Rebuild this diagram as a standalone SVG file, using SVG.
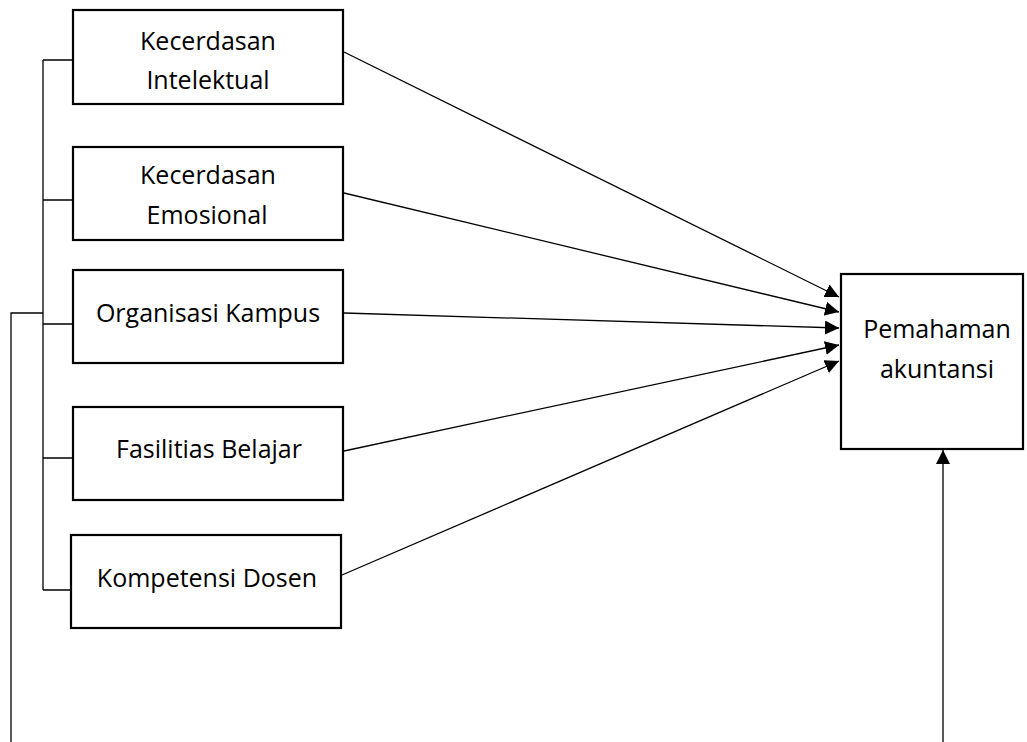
<svg xmlns="http://www.w3.org/2000/svg" width="1027" height="742" viewBox="0 0 1027 742">
<defs>
<style>
.box{fill:#fff;stroke:#000;stroke-width:2.2}
.ln{fill:none;stroke:#000;stroke-width:1.3}
.t{font-family:"Open Sans","Noto Sans",sans-serif;font-size:25px;fill:#000;text-anchor:middle}
</style>
<marker id="ah" viewBox="0 0 10 10" refX="10" refY="5" markerWidth="14" markerHeight="14" markerUnits="userSpaceOnUse" orient="auto">
<path d="M0,0 L10,5 L0,10 z" fill="#000"/>
</marker>
</defs>
<rect width="1027" height="742" fill="#fff"/>
<g id="connectors">
<path class="ln" d="M43,60 V590 M43,60 H73 M43,200 H73 M43,324 H73 M43,458 H73 M43,590 H71"/>
<path class="ln" d="M11,742 V313 H43"/>
<line class="ln" x1="344" y1="52" x2="839" y2="297" marker-end="url(#ah)"/>
<line class="ln" x1="344" y1="193" x2="839" y2="312" marker-end="url(#ah)"/>
<line class="ln" x1="344" y1="313" x2="839" y2="328" marker-end="url(#ah)"/>
<line class="ln" x1="344" y1="451" x2="839" y2="345" marker-end="url(#ah)"/>
<line class="ln" x1="342" y1="575" x2="839" y2="361" marker-end="url(#ah)"/>
<line class="ln" x1="943" y1="742" x2="943" y2="450" marker-end="url(#ah)"/>
</g>
<g id="n1"><rect class="box" x="73" y="10" width="270" height="94"/><text class="t" x="208" y="50">Kecerdasan</text><text class="t" x="208" y="89">Intelektual</text></g>
<g id="n2"><rect class="box" x="73" y="147" width="270" height="93"/><text class="t" x="208" y="184">Kecerdasan</text><text class="t" x="207" y="224">Emosional</text></g>
<g id="n3"><rect class="box" x="73" y="270" width="270" height="93"/><text class="t" x="208" y="322">Organisasi Kampus</text></g>
<g id="n4"><rect class="box" x="73" y="407" width="270" height="93"/><text class="t" x="209" y="458">Fasilitias Belajar</text></g>
<g id="n5"><rect class="box" x="71" y="535" width="270" height="93"/><text class="t" x="207" y="587">Kompetensi Dosen</text></g>
<g id="target"><rect class="box" x="841" y="274" width="182" height="175"/><text class="t" x="937" y="338">Pemahaman</text><text class="t" x="937" y="378">akuntansi</text></g>
</svg>
